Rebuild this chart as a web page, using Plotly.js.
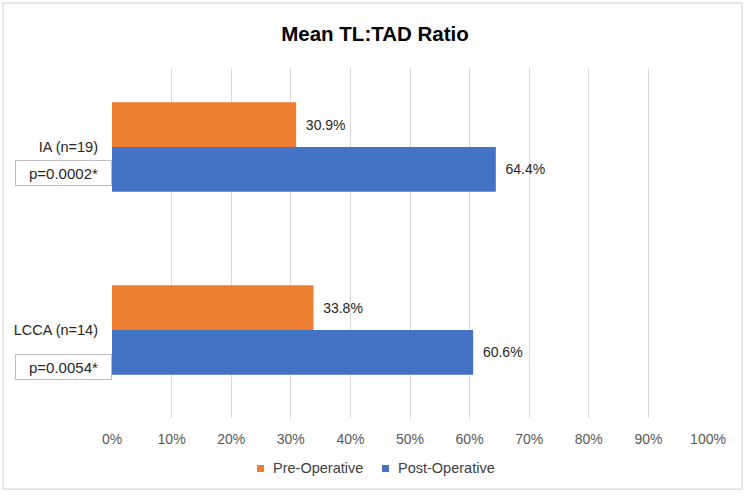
<!DOCTYPE html>
<html>
<head>
<meta charset="utf-8">
<script src="https://cdn.plot.ly/plotly-3.0.1.min.js"></script>
<style>
  html, body { margin: 0; padding: 0; background: #ffffff; }
  #chart { width: 750px; height: 496px; }
</style>
</head>
<body>
<div id="chart"></div>
<script>
// Groups shown on the vertical axis
const groups = ['IA (n=19)', 'LCCA (n=14)'];
// Series names and colours
const seriesNames = ['Pre-Operative', 'Post-Operative'];
const seriesColors = ['#ED7D31', '#4472C4'];
// Mean TL:TAD ratio (%) per group
const preOperative = [30.9, 33.8];
const postOperative = [64.4, 60.6];
// Significance notes for each group
const pValues = ['p=0.0002*', 'p=0.0054*'];
const pOffsets = [0.14, 0.2];
// Axis ticks
const xTicks = [0, 10, 20, 30, 40, 50, 60, 70, 80, 90, 100];

const fontFamily = '"Liberation Sans", Arial, Helvetica, sans-serif';

// value label with a small gap after the bar end
function pct(v) { return '\u00a0\u2009' + v.toFixed(1) + '%'; }

const seriesValues = [preOperative, postOperative];
const traces = seriesValues.map((vals, k) => ({
  type: 'bar', orientation: 'h', name: seriesNames[k],
  y: groups, x: vals,
  marker: { color: seriesColors[k] },
  text: vals.map(pct), textposition: 'outside',
  textfont: { family: fontFamily, size: 14, color: '#262626' },
  cliponaxis: false, hoverinfo: 'skip', showlegend: false
}));

const annotations = pValues.map((p, i) => ({
  xref: 'paper', yref: 'y',
  x: 0, xanchor: 'right',
  y: i + pOffsets[i], yanchor: 'middle',
  text: p, showarrow: false,
  font: { family: fontFamily, size: 15, color: '#262626' },
  bgcolor: '#ffffff', bordercolor: '#bfbfbf', borderwidth: 1,
  borderpad: 3, width: 89, height: 18, align: 'center'
}));

// Legend row under the axis: small square swatch followed by the series name
const legendSwatchX = [0.2433, 0.4530];
const swatchW = 0.0118;
const shapes = [{
  type: 'rect', xref: 'paper', yref: 'paper',
  x0: -0.183, x1: 1.057, y0: -0.203, y1: 1.186,
  line: { color: '#d9d9d9', width: 1.2 }, fillcolor: 'rgba(0,0,0,0)',
  layer: 'below'
}];
seriesNames.forEach((name, k) => {
  shapes.push({
    type: 'rect', xref: 'paper', yref: 'paper',
    x0: legendSwatchX[k], x1: legendSwatchX[k] + swatchW,
    y0: -0.1543, y1: -0.1343,
    line: { width: 0 }, fillcolor: seriesColors[k]
  });
  annotations.push({
    xref: 'paper', yref: 'paper',
    x: legendSwatchX[k] + swatchW + 0.0118, xanchor: 'left',
    y: -0.1429, yanchor: 'middle',
    text: name, showarrow: false,
    font: { family: fontFamily, size: 14.5, color: '#404040' }
  });
});

const layout = {
  width: 750, height: 496,
  margin: { l: 112, r: 42, t: 68, b: 78 },
  paper_bgcolor: '#ffffff', plot_bgcolor: '#ffffff',
  font: { family: fontFamily, size: 14, color: '#404040' },
  title: {
    text: '<b>Mean TL:TAD Ratio</b>',
    font: { family: fontFamily, size: 20.5, color: '#000000' },
    x: 0.5, xref: 'container', xanchor: 'center',
    y: 26, yref: 'container', yanchor: 'middle'
  },
  barmode: 'group', bargap: 0.51, bargroupgap: 0,
  xaxis: {
    range: [0, 100], tickvals: xTicks,
    ticktext: xTicks.map(v => v + '%'),
    showgrid: true, gridcolor: '#d9d9d9', gridwidth: 1,
    zeroline: false, showline: false, ticks: '',
    tickfont: { family: fontFamily, size: 14, color: '#595959' },
    ticklabelstandoff: 11, fixedrange: true
  },
  yaxis: {
    type: 'category', range: [1.481, -0.432],
    showgrid: false, zeroline: false, showline: false, ticks: '',
    tickfont: { family: fontFamily, size: 14.5, color: '#262626' },
    ticklabelstandoff: 13, fixedrange: true
  },
  annotations: annotations,
  shapes: shapes,
  showlegend: false
};

Plotly.newPlot('chart', traces, layout, { displayModeBar: false, staticPlot: true });
</script>
</body>
</html>
